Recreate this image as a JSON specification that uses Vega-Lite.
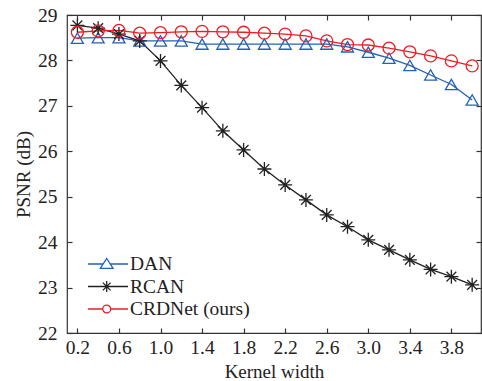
{
  "$schema": "https://vega.github.io/schema/vega-lite/v6.json",
  "width": 414,
  "height": 318,
  "autosize": {"type": "none"},
  "padding": {"left": 67, "top": 15, "right": 1, "bottom": 48},
  "background": "white",
  "config": {
    "view": {"stroke": "#333333", "strokeWidth": 1.2},
    "font": "Liberation Serif, Times New Roman, serif",
    "axis": {
      "labelFont": "Liberation Serif, Times New Roman, serif",
      "titleFont": "Liberation Serif, Times New Roman, serif",
      "labelFontSize": 19.5,
      "titleFontSize": 19,
      "titleFontWeight": "normal",
      "labelColor": "#222222",
      "titleColor": "#222222",
      "tickColor": "#333333",
      "tickSize": -5,
      "tickWidth": 1.2,
      "domain": false,
      "grid": false
    }
  },
  "data": {
    "values": [
      {"x": 0.2, "model": "DAN", "psnr": 28.49},
      {"x": 0.4, "model": "DAN", "psnr": 28.5},
      {"x": 0.6, "model": "DAN", "psnr": 28.5},
      {"x": 0.8, "model": "DAN", "psnr": 28.43},
      {"x": 1.0, "model": "DAN", "psnr": 28.43},
      {"x": 1.2, "model": "DAN", "psnr": 28.43},
      {"x": 1.4, "model": "DAN", "psnr": 28.36},
      {"x": 1.6, "model": "DAN", "psnr": 28.36},
      {"x": 1.8, "model": "DAN", "psnr": 28.36},
      {"x": 2.0, "model": "DAN", "psnr": 28.36},
      {"x": 2.2, "model": "DAN", "psnr": 28.36},
      {"x": 2.4, "model": "DAN", "psnr": 28.36},
      {"x": 2.6, "model": "DAN", "psnr": 28.36},
      {"x": 2.8, "model": "DAN", "psnr": 28.3},
      {"x": 3.0, "model": "DAN", "psnr": 28.18},
      {"x": 3.2, "model": "DAN", "psnr": 28.05},
      {"x": 3.4, "model": "DAN", "psnr": 27.89},
      {"x": 3.6, "model": "DAN", "psnr": 27.68},
      {"x": 3.8, "model": "DAN", "psnr": 27.47},
      {"x": 4.0, "model": "DAN", "psnr": 27.13},
      {"x": 0.2, "model": "RCAN", "psnr": 28.77},
      {"x": 0.4, "model": "RCAN", "psnr": 28.71},
      {"x": 0.6, "model": "RCAN", "psnr": 28.58},
      {"x": 0.8, "model": "RCAN", "psnr": 28.43},
      {"x": 1.0, "model": "RCAN", "psnr": 27.99},
      {"x": 1.2, "model": "RCAN", "psnr": 27.45},
      {"x": 1.4, "model": "RCAN", "psnr": 26.96},
      {"x": 1.6, "model": "RCAN", "psnr": 26.45},
      {"x": 1.8, "model": "RCAN", "psnr": 26.03},
      {"x": 2.0, "model": "RCAN", "psnr": 25.61},
      {"x": 2.2, "model": "RCAN", "psnr": 25.26},
      {"x": 2.4, "model": "RCAN", "psnr": 24.93},
      {"x": 2.6, "model": "RCAN", "psnr": 24.6},
      {"x": 2.8, "model": "RCAN", "psnr": 24.34},
      {"x": 3.0, "model": "RCAN", "psnr": 24.05},
      {"x": 3.2, "model": "RCAN", "psnr": 23.83},
      {"x": 3.4, "model": "RCAN", "psnr": 23.61},
      {"x": 3.6, "model": "RCAN", "psnr": 23.4},
      {"x": 3.8, "model": "RCAN", "psnr": 23.24},
      {"x": 4.0, "model": "RCAN", "psnr": 23.06},
      {"x": 0.2, "model": "CRDNet (ours)", "psnr": 28.62},
      {"x": 0.4, "model": "CRDNet (ours)", "psnr": 28.65},
      {"x": 0.6, "model": "CRDNet (ours)", "psnr": 28.66},
      {"x": 0.8, "model": "CRDNet (ours)", "psnr": 28.6},
      {"x": 1.0, "model": "CRDNet (ours)", "psnr": 28.61},
      {"x": 1.2, "model": "CRDNet (ours)", "psnr": 28.63},
      {"x": 1.4, "model": "CRDNet (ours)", "psnr": 28.64},
      {"x": 1.6, "model": "CRDNet (ours)", "psnr": 28.63},
      {"x": 1.8, "model": "CRDNet (ours)", "psnr": 28.62},
      {"x": 2.0, "model": "CRDNet (ours)", "psnr": 28.6},
      {"x": 2.2, "model": "CRDNet (ours)", "psnr": 28.58},
      {"x": 2.4, "model": "CRDNet (ours)", "psnr": 28.54},
      {"x": 2.6, "model": "CRDNet (ours)", "psnr": 28.43},
      {"x": 2.8, "model": "CRDNet (ours)", "psnr": 28.35},
      {"x": 3.0, "model": "CRDNet (ours)", "psnr": 28.34},
      {"x": 3.2, "model": "CRDNet (ours)", "psnr": 28.27},
      {"x": 3.4, "model": "CRDNet (ours)", "psnr": 28.19},
      {"x": 3.6, "model": "CRDNet (ours)", "psnr": 28.1},
      {"x": 3.8, "model": "CRDNet (ours)", "psnr": 27.99},
      {"x": 4.0, "model": "CRDNet (ours)", "psnr": 27.88}
    ]
  },
  "resolve": {"axis": {"x": "independent", "y": "independent"}},
  "layer": [
    {
      "mark": {"type": "line", "strokeWidth": 1.3, "clip": true},
      "encoding": {
        "x": {
          "field": "x", "type": "quantitative",
          "scale": {"domain": [0.1, 4.085], "nice": false, "zero": false},
          "axis": {"values": [0.2, 0.6, 1.0, 1.4, 1.8, 2.2, 2.6, 3.0, 3.4, 3.8], "format": ".1f", "title": "Kernel width", "labelPadding": 10, "titlePadding": 6}
        },
        "y": {
          "field": "psnr", "type": "quantitative",
          "scale": {"domain": [22, 29], "nice": false, "zero": false},
          "axis": {"values": [22, 23, 24, 25, 26, 27, 28, 29], "format": "d", "title": "PSNR (dB)", "labelPadding": 15, "titlePadding": 4}
        },
        "color": {
          "field": "model", "type": "nominal",
          "scale": {"domain": ["DAN", "RCAN", "CRDNet (ours)"], "range": ["#2560b8", "#222222", "#ee1c24"]},
          "legend": {
            "title": null,
            "orient": "none",
            "legendX": 20,
            "legendY": 237,
            "padding": 0,
            "rowPadding": 0.5,
            "symbolSize": 484,
            "symbolType": "M-1,0L2.64,0",
            "symbolStrokeWidth": 1.3,
            "labelOffset": 19,
            "labelFont": "Liberation Serif, Times New Roman, serif",
            "labelFontSize": 19.5,
            "labelColor": "#222222",
            "encode": {
              "symbols": {
                "update": {
                  "shape": {"signal": "datum.value === 'DAN' ? 'M-1,0L0.38,0M1.02,0L2.64,0M0.7,-0.5L1.28,0.4L0.12,0.4Z' : datum.value === 'RCAN' ? 'M-1,0L2.64,0M0.7,-0.5L0.7,0.5M0.35,-0.35L1.05,0.35M0.35,0.35L1.05,-0.35' : 'M-1,0L0.34,0M1.06,0L2.64,0M1.06,0A0.36,0.36 0 1,0 0.34,0A0.36,0.36 0 1,0 1.06,0Z'"},
                  "size": {"value": 484},
                  "fill": {"value": "transparent"},
                  "strokeWidth": {"value": 1.3}
                }
              }
            }
          }
        }
      }
    },
    {
      "transform": [{"filter": "datum.model === 'DAN'"}],
      "mark": {"type": "point", "shape": "triangle-up", "filled": false, "strokeWidth": 1.3, "size": 144, "opacity": 1},
      "encoding": {
        "x": {
          "field": "x", "type": "quantitative",
          "axis": {"orient": "top", "values": [0.2, 0.6, 1.0, 1.4, 1.8, 2.2, 2.6, 3.0, 3.4, 3.8], "labels": false, "title": null}
        },
        "y": {
          "field": "psnr", "type": "quantitative",
          "axis": {"orient": "right", "values": [22, 23, 24, 25, 26, 27, 28, 29], "labels": false, "title": null}
        },
        "color": {"field": "model", "type": "nominal"}
      }
    },
    {
      "transform": [{"filter": "datum.model === 'RCAN'"}],
      "mark": {"type": "point", "shape": "M-1,0L1,0M0,-1L0,1M-0.7,-0.7L0.7,0.7M-0.7,0.7L0.7,-0.7", "filled": false, "strokeWidth": 1.3, "size": 196, "opacity": 1},
      "encoding": {
        "x": {"field": "x", "type": "quantitative", "axis": null},
        "y": {"field": "psnr", "type": "quantitative", "axis": null},
        "color": {"field": "model", "type": "nominal"}
      }
    },
    {
      "transform": [{"filter": "datum.model === 'CRDNet (ours)'"}],
      "mark": {"type": "point", "shape": "circle", "filled": false, "strokeWidth": 1.3, "size": 144, "opacity": 1},
      "encoding": {
        "x": {"field": "x", "type": "quantitative", "axis": null},
        "y": {"field": "psnr", "type": "quantitative", "axis": null},
        "color": {"field": "model", "type": "nominal"}
      }
    }
  ]
}
